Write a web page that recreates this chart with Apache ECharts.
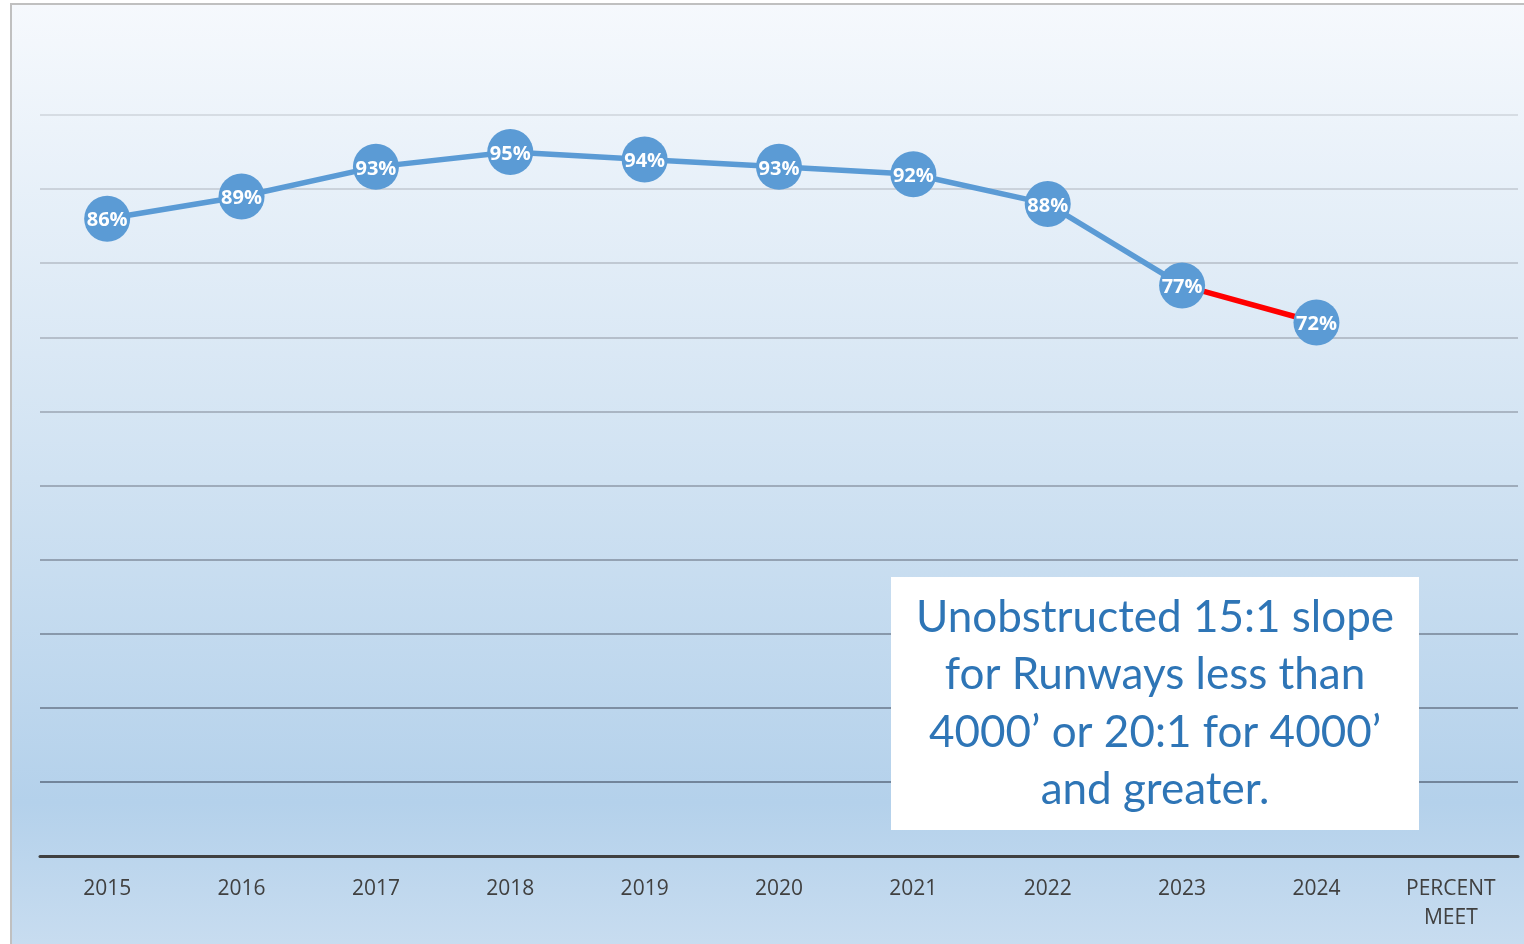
<!DOCTYPE html>
<html>
<head>
<meta charset="utf-8">
<script src="https://cdn.jsdelivr.net/npm/echarts@6/dist/echarts.min.js"></script>
<style>
html,body{margin:0;padding:0;background:#fff;}
#chart{width:1524px;height:944px;}
</style>
</head>
<body>
<div id="chart"></div>
<script>
var categories = ['2015','2016','2017','2018','2019','2020','2021','2022','2023','2024','PERCENT\nMEET'];
var values = [86, 89, 93, 95, 94, 93, 92, 88, 77, 72];
var highlightFrom = 8; // index where the red segment starts (2023 -> 2024)
var noteText = 'Unobstructed 15:1 slope\nfor Runways less than\n4000\u2019 or 20:1 for 4000\u2019\nand greater.';

var blueLine = values.map(function (v, i) { return i <= highlightFrom ? v : null; });
var redLine = values.map(function (v, i) { return i >= highlightFrom ? v : null; });

var chart = echarts.init(document.getElementById('chart'), null, {renderer: 'canvas'});
var font = '"Open Sans", "Noto Sans", sans-serif';

chart.setOption({
  backgroundColor: '#ffffff',
  animation: false,
  grid: {left: 40, right: 6, top: 115, bottom: 88, containLabel: false},
  xAxis: {
    type: 'category',
    data: categories,
    boundaryGap: true,
    axisLine: {show: true, lineStyle: {color: '#404040', width: 3}},
    axisTick: {show: false},
    axisLabel: {color: '#404040', fontSize: 21, fontFamily: font, margin: 19, lineHeight: 29, interval: 0}
  },
  yAxis: {
    type: 'value',
    min: 0, max: 100, interval: 10,
    axisLine: {show: false},
    axisTick: {show: false},
    axisLabel: {show: false},
    splitLine: {
      show: true,
      lineStyle: {
        width: 2,
        color: new echarts.graphic.LinearGradient(0, 115, 0, 790, [
          {offset: 0, color: '#d6dce3'},
          {offset: 1, color: '#71849a'}
        ], true)
      }
    }
  },
  graphic: [
    {
      type: 'rect', z: -10, silent: true,
      shape: {x: 11, y: 4, width: 1520, height: 950},
      style: {
        fill: new echarts.graphic.LinearGradient(0, 0, 0, 1, [
          {offset: 0, color: '#f6f9fd'},
          {offset: 0.5, color: '#d0e2f2'},
          {offset: 0.84, color: '#b4d1eb'},
          {offset: 1, color: '#c9ddf0'}
        ]),
        stroke: '#c0c0c0', lineWidth: 2
      }
    },
    {
      type: 'rect', z: 100, zlevel: 1, silent: true,
      shape: {x: 891, y: 577, width: 528, height: 253},
      style: {fill: '#ffffff'}
    },
    {
      type: 'text', z: 101, zlevel: 1, silent: true,
      x: 1155, y: 704,
      style: {
        text: noteText,
        fill: '#2e75b6',
        fontSize: 44,
        fontFamily: 'Lato, "Open Sans", sans-serif',
        lineHeight: 57.5,
        align: 'center',
        verticalAlign: 'middle'
      }
    }
  ],
  series: [
    {
      type: 'line', data: blueLine, z: 2,
      symbol: 'none', connectNulls: false,
      lineStyle: {color: '#5b9bd5', width: 5.5}
    },
    {
      type: 'line', data: redLine, z: 2,
      symbol: 'none',
      lineStyle: {color: '#ff0000', width: 5.5}
    },
    {
      type: 'scatter', data: values, z: 5,
      symbol: 'circle', symbolSize: 46,
      itemStyle: {color: '#5b9bd5', opacity: 1},
      label: {
        show: true, position: 'inside', offset: [0, 2],
        formatter: function (p) { return p.value + '%'; },
        color: '#ffffff', fontWeight: 'bold', fontSize: 20, fontFamily: font
      }
    }
  ]
});
</script>
</body>
</html>
